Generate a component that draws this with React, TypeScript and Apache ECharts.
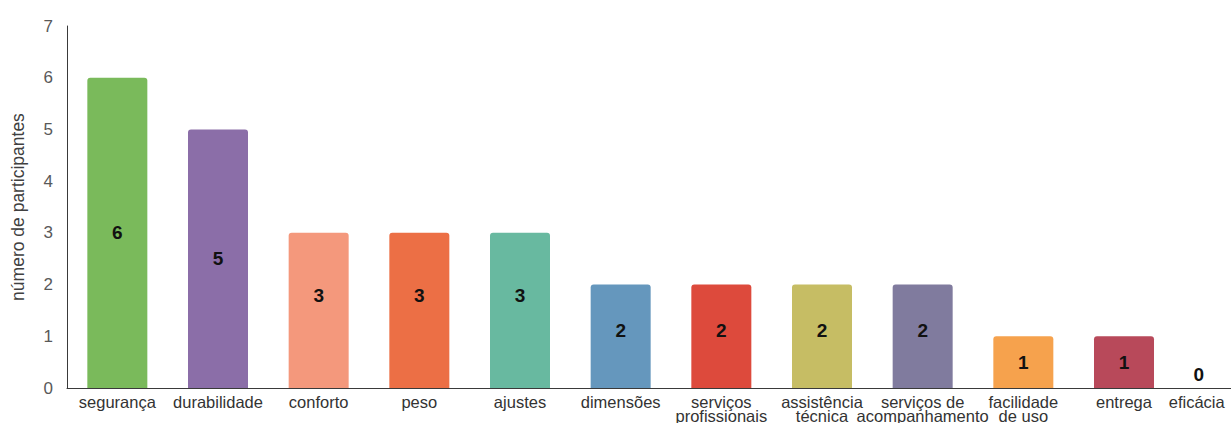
import React, { useEffect, useRef } from "react";
import * as echarts from "echarts";

const categories = [
  "segurança",
  "durabilidade",
  "conforto",
  "peso",
  "ajustes",
  "dimensões",
  "serviços\nprofissionais",
  "assistência\ntécnica",
  "serviços de\nacompanhamento",
  "facilidade\nde uso",
  "entrega",
  "eficácia",
];
const values = [6, 5, 3, 3, 3, 2, 2, 2, 2, 1, 1, 0];
const colors = [
  "#7aba5b",
  "#8b6ea8",
  "#f4987c",
  "#ec6f45",
  "#68b9a0",
  "#6597bd",
  "#dd4a3c",
  "#c6bd64",
  "#807b9e",
  "#f6a24d",
  "#b8495a",
  "#999999",
];
const labelOffsets = [
  [0, 0], [0, 0], [0, -15], [0, -15], [0, -15], [0, -6], [0, -6], [0, -6], [0, -6], [0, 0], [0, 0], [-26, 0],
];
const yTicks = [0, 1, 2, 3, 4, 5, 6, 7];

export default function App() {
  const ref = useRef<HTMLDivElement>(null);
  useEffect(() => {
    if (!ref.current) return;
    const chart = echarts.init(ref.current, null, { renderer: "svg" });
    const font = "'Liberation Sans', Arial, sans-serif";
    chart.setOption({
      animation: false,
      grid: { left: 67, right: 2, top: 26, bottom: 35, containLabel: false, outerBoundsMode: "none" },
      xAxis: {
        type: "category",
        data: categories.map((c, i) =>
          i === categories.length - 1
            ? { value: c, textStyle: { align: "right" } }
            : c
        ),
        axisLine: { lineStyle: { color: "#3a3a3a", width: 1 } },
        axisTick: { show: false },
        axisLabel: {
          interval: 0,
          color: "#333",
          fontSize: 16.5,
          fontFamily: font,
          lineHeight: 14,
          margin: 7,
          hideOverlap: false,
        },
      },
      yAxis: {
        type: "value",
        min: 0,
        max: 7,
        interval: 1,
        name: "número de participantes",
        nameLocation: "middle",
        nameGap: 40,
        nameTextStyle: { color: "#404040", fontSize: 17.5, fontFamily: font },
        axisLine: { show: true, lineStyle: { color: "#3a3a3a", width: 1 } },
        axisTick: { show: false },
        splitLine: { show: false },
        axisLabel: {
          color: "#595959",
          fontSize: 17,
          fontFamily: font,
          margin: 14,
          formatter: (v: number) => (yTicks.includes(v) ? String(v) : ""),
        },
      },
      series: [
        {
          type: "bar",
          barWidth: 60,
          data: values.map((v, i) => ({
            value: v,
            itemStyle: { color: colors[i], borderRadius: [3, 3, 0, 0] },
            label: {
              show: true,
              position: v === 0 ? "top" : "inside",
              offset: labelOffsets[i],
              distance: 4,
            },
          })),
          label: {
            color: "#111",
            fontSize: 19,
            fontWeight: "bold",
            fontFamily: font,
          },
        },
      ],
    });
    return () => chart.dispose();
  }, []);
  return (
    <div style={{ position: "absolute", left: 0, top: 0, width: 1231, height: 423, overflow: "hidden" }}>
      <div ref={ref} style={{ width: 1277, height: 423 }} />
    </div>
  );
}
